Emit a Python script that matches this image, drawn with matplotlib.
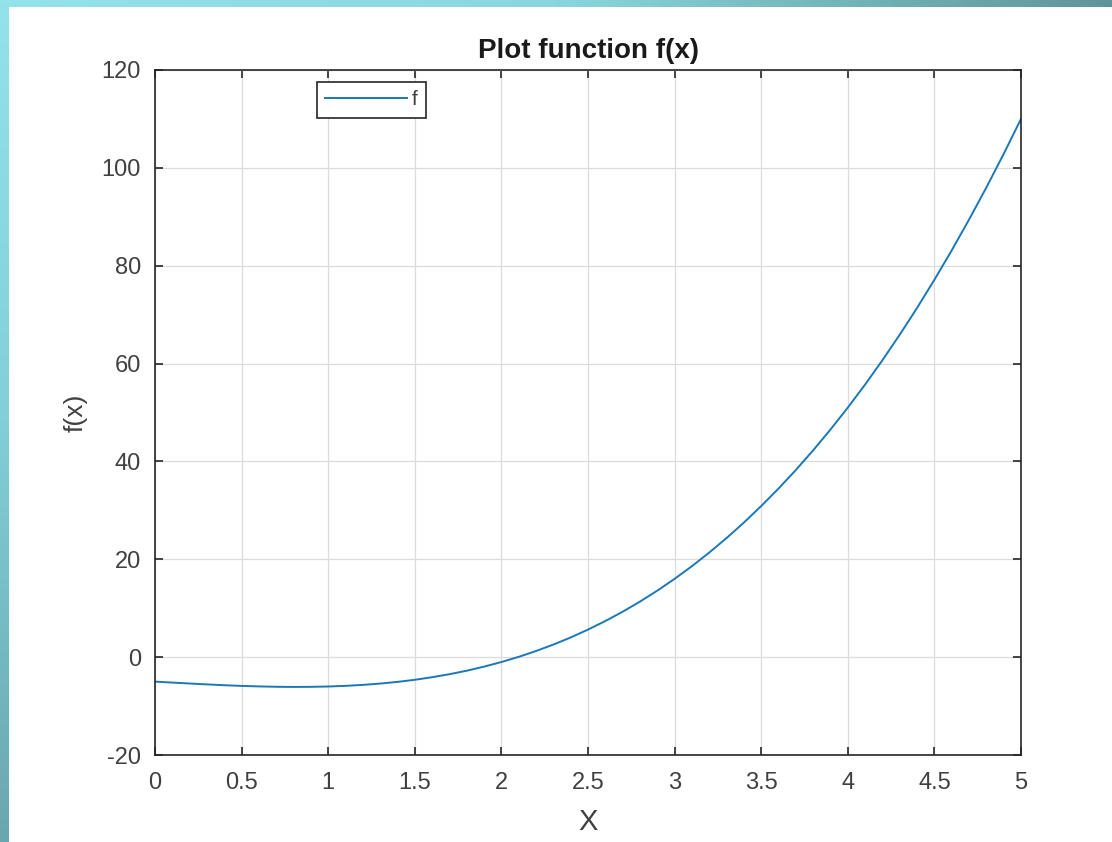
import numpy as np
import matplotlib
matplotlib.use('Agg')
import matplotlib.pyplot as plt

plt.rcParams['font.family'] = ['Liberation Sans', 'DejaVu Sans']
plt.rcParams['axes.unicode_minus'] = False

# values, step 0.1
x_vals = [0.0, 0.1, 0.2, 0.3, 0.4, 0.5, 0.6, 0.7, 0.8, 0.9,
          1.0, 1.1, 1.2, 1.3, 1.4, 1.5, 1.6, 1.7, 1.8, 1.9,
          2.0, 2.1, 2.2, 2.3, 2.4, 2.5, 2.6, 2.7, 2.8, 2.9,
          3.0, 3.1, 3.2, 3.3, 3.4, 3.5, 3.6, 3.7, 3.8, 3.9,
          4.0, 4.1, 4.2, 4.3, 4.4, 4.5, 4.6, 4.7, 4.8, 4.9, 5.0]
f_vals = [-5.0, -5.2, -5.39, -5.57, -5.74, -5.88, -5.98, -6.06, -6.09, -6.07,
          -6.0, -5.87, -5.67, -5.4, -5.06, -4.63, -4.1, -3.49, -2.77, -1.94,
          -1.0, 0.06, 1.25, 2.57, 4.02, 5.63, 7.38, 9.28, 11.35, 13.59,
          16.0, 18.59, 21.37, 24.34, 27.5, 30.88, 34.46, 38.25, 42.27, 46.52,
          51.0, 55.72, 60.69, 65.91, 71.38, 77.13, 83.14, 89.42, 95.99, 102.85, 110.0]

x_ticks = [0, 0.5, 1, 1.5, 2, 2.5, 3, 3.5, 4, 4.5, 5]
x_ticklabels = ['0', '0.5', '1', '1.5', '2', '2.5', '3', '3.5', '4', '4.5', '5']
y_ticks = [-20, 0, 20, 40, 60, 80, 100, 120]

W, H = 1112, 842
fig = plt.figure(figsize=(W / 100, H / 100), dpi=100)
fig.patch.set_facecolor('white')

# teal slide border: top and left bands
top_band = fig.add_axes([0, 1 - 7 / H, 1, 7 / H])
grad_h = np.linspace(0, 1, 256).reshape(1, -1)
cmap_top = matplotlib.colors.LinearSegmentedColormap.from_list(
    'top', ['#93e3ea', '#8ad6de', '#5f9599'])
top_band.imshow(grad_h, aspect='auto', cmap=cmap_top, extent=[0, 1, 0, 1])
top_band.axis('off')

left_band = fig.add_axes([0, 0, 9 / W, 1])
grad_v = np.linspace(0, 1, 256).reshape(-1, 1)
cmap_left = matplotlib.colors.LinearSegmentedColormap.from_list(
    'left', ['#6aa7ad', '#82cfd7', '#93e3ea'])
left_band.imshow(grad_v, aspect='auto', cmap=cmap_left, origin='lower',
                 extent=[0, 1, 0, 1])
left_band.axis('off')

# main axes (pixel box: 155..1021 x 70..755)
ax = fig.add_axes([155 / W, 1 - 755 / H, (1021 - 155) / W, (755 - 70) / H])
ax.plot(x_vals, f_vals, color='#1a78b8', linewidth=1.4, label='f')

ax.set_xlim(0, 5)
ax.set_ylim(-20, 120)
ax.set_xticks(x_ticks)
ax.set_xticklabels(x_ticklabels)
ax.set_yticks(y_ticks)

ax.grid(True, color='#dcdcdc', linewidth=0.9)
ax.set_axisbelow(True)
for sp in ax.spines.values():
    sp.set_color('#262626')
    sp.set_linewidth(1.2)
ax.tick_params(direction='in', length=6, width=1.2, color='#262626',
               labelcolor='#404040', labelsize=17, top=True, right=True)
ax.tick_params(axis='x', pad=12)
ax.tick_params(axis='y', pad=10)

ax.set_title('Plot function f(x)', fontsize=20, fontweight='bold',
             color='#1a1a1a', pad=9)
ax.set_xlabel('X', fontsize=21, color='#404040', labelpad=10)
ax.set_ylabel('f(x)', fontsize=19, color='#404040', labelpad=10)

leg = ax.legend(loc='upper left', bbox_to_anchor=(0.187, 0.9825),
                borderaxespad=0, fontsize=15, handlelength=3.9,
                handletextpad=0.25, borderpad=0.4, fancybox=False,
                framealpha=1, edgecolor='#262626', labelcolor='#404040')
leg.get_frame().set_linewidth(1.2)

plt.savefig('out.png', dpi=100)
plt.close()
